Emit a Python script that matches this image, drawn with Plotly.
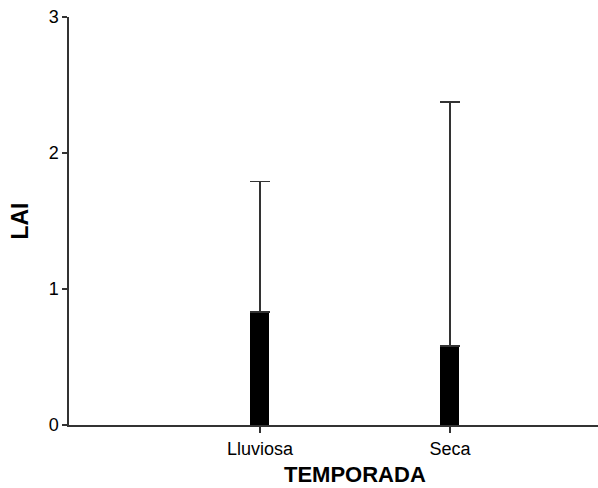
import plotly.graph_objects as go

categories = ["Lluviosa", "Seca"]
lai_mean = [0.83, 0.58]
lai_upper = [1.79, 2.375]
y_ticks = [0, 1, 2, 3]

err_plus = [u - m for u, m in zip(lai_upper, lai_mean)]

fig = go.Figure()
fig.add_trace(go.Bar(
    x=[0, 1], y=lai_mean, width=0.1,
    marker=dict(color="black", line=dict(width=0)),
    error_y=dict(type="data", symmetric=False, array=err_plus,
                 arrayminus=[0, 0], color="#333333", thickness=1.5, width=10),
))

AX = "#333333"
fig.update_layout(
    width=598, height=488,
    margin=dict(l=69, r=0, t=17, b=63),
    plot_bgcolor="white", paper_bgcolor="white",
    showlegend=False,
    font=dict(family="Liberation Sans, Arial, sans-serif", color="black", size=16),
    xaxis=dict(
        range=[-1.005, 1.779], tickmode="array", tickvals=[0, 1], ticktext=categories,
        showline=True, linecolor=AX, linewidth=2, ticks="outside", ticklen=6,
        tickcolor=AX, tickwidth=1.5, showgrid=False, zeroline=False,
        tickfont=dict(size=18),
    ),
    yaxis=dict(
        range=[0, 3], tickvals=y_ticks, showline=True, linecolor=AX, linewidth=1.5,
        ticks="outside", ticklen=5, tickcolor=AX, tickwidth=1.5,
        showgrid=False, zeroline=False, tickfont=dict(size=18),
        title=dict(text="<b>LAI</b>", font=dict(size=23), standoff=14),
    ),
    bargap=0,
)
fig.add_annotation(text="<b>TEMPORADA</b>", xref="paper", yref="paper",
                   x=0.5397, y=-0.1225, xanchor="center", yanchor="middle",
                   showarrow=False, font=dict(size=22, color="black"))
fig.add_shape(type="line", xref="paper", x0=0, x1=0, yref="y", ysizemode="pixel",
              yanchor=0, y0=0, y1=-5, line=dict(color=AX, width=1.5))
fig.write_html("out.html", config={"displayModeBar": False},
               post_script="document.body.style.margin='0';document.body.style.padding='0';")
